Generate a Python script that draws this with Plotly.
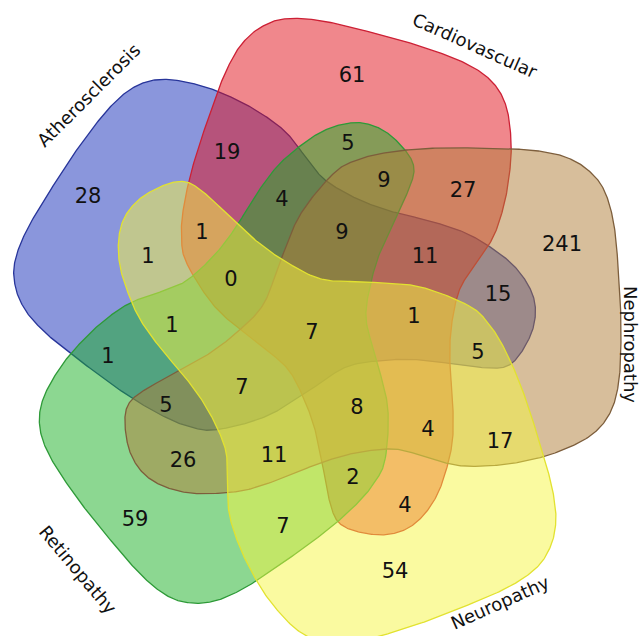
import numpy as np
import plotly.graph_objects as go

# ---------------- data ----------------
SET_NAMES = ["Atherosclerosis", "Cardiovascular", "Nephropathy", "Neuropathy", "Retinopathy"]
SET_CODES = ["A", "C", "N", "U", "R"]

# membership of each Venn region (codes of the sets it belongs to)
REGION_SETS = [
    "A", "C", "N", "U", "R",
    "AC", "CN", "NU", "UR", "AR",
    "CR", "AN", "CU", "NR", "AU",
    "CNR", "ACR", "ACN", "ANU", "CNU",
    "CUR", "NUR", "ANR", "AUR", "ACU",
    "ACNR", "ACNU", "CNUR", "ANUR", "ACUR",
    "ACNUR",
]
REGION_COUNTS = [
    28, 61, 241, 54, 59,
    19, 27, 17, 7, 1,
    5, 15, 4, 26, 1,
    9, 4, 11, 5, 4,
    2, 11, 5, 1, 1,
    9, 1, 8, 7, 0,
    7,
]

# ---------------- layout (geometry, not data) ----------------
CANVAS_W, CANVAS_H = 641, 636
CENTER = (320.0, 320.0)

# one petal outline (drawn in the Nephropathy orientation); others are rotations
TEMPLATE_X = [333, 357, 390, 440, 513, 545, 568, 588, 604, 614, 619, 621, 619, 610, 590,
              555, 520, 487, 455, 420, 393, 355, 320, 283, 250, 223, 190, 163, 143, 130,
              125, 128, 143, 175, 207, 235, 263, 280, 300]
TEMPLATE_Y = [174, 160, 152, 148, 149, 152, 158, 170, 190, 225, 280, 330, 380, 413, 436,
              453, 462, 466, 465, 455, 449, 453, 463, 478, 489, 493, 493, 486, 473, 452,
              425, 405, 391, 373, 355, 334, 305, 262, 215]

# rotation (deg), scale, shift x, shift y for each set
PLACEMENT = {
    "Atherosclerosis": (-144, 0.965, -10, 3),
    "Cardiovascular": (-72, 0.97, -2, 0),
    "Nephropathy": (0, 1.0, 0, 0),
    "Neuropathy": (72, 1.0, 5, 18),
    "Retinopathy": (144, 0.947, -6, 19),
}

FILL = {
    "Atherosclerosis": "rgba(21,45,185,0.5)",
    "Cardiovascular": "rgba(225,15,25,0.5)",
    "Nephropathy": "rgba(175,125,55,0.5)",
    "Neuropathy": "rgba(245,245,65,0.5)",
    "Retinopathy": "rgba(25,175,35,0.5)",
}
EDGE = {
    "Atherosclerosis": "#28359a",
    "Cardiovascular": "#cc2035",
    "Nephropathy": "#7d5e3c",
    "Neuropathy": "#e2e230",
    "Retinopathy": "#2e9a38",
}
DRAW_ORDER = ["Atherosclerosis", "Cardiovascular", "Retinopathy", "Nephropathy", "Neuropathy"]

REGION_LABEL_X = [88, 352, 562, 395, 135,
                  227, 463, 500, 283, 108,
                  348, 498, 405, 183, 148,
                  384, 282, 425, 478, 428,
                  353, 274, 166, 172, 202,
                  342, 414, 357, 242, 231,
                  312]
REGION_LABEL_Y = [198, 77, 246, 573, 521,
                  154, 192, 443, 528, 358,
                  145, 296, 507, 462, 258,
                  182, 201, 258, 354, 431,
                  479, 457, 407, 327, 234,
                  234, 318, 409, 389, 281,
                  334]

SET_LABEL_X = [88, 475, 631, 500, 78]
SET_LABEL_Y = [95, 45, 344, 602, 569]
SET_LABEL_ANGLE = [-45, 24, 90, -24, 50]

NUM_FONT = "DejaVu Sans, Liberation Sans, Arial, sans-serif"
LBL_FONT = "DejaVu Sans, Liberation Sans, Arial, sans-serif"


def closed_spline(px, py, n=24):
    p = np.column_stack([px, py]).astype(float)
    m = len(p)
    out = []
    for i in range(m):
        p0, p1, p2, p3 = p[(i - 1) % m], p[i], p[(i + 1) % m], p[(i + 2) % m]
        t = np.linspace(0, 1, n, endpoint=False)[:, None]
        t2, t3 = t * t, t * t * t
        seg = 0.5 * ((2 * p1) + (-p0 + p2) * t + (2 * p0 - 5 * p1 + 4 * p2 - p3) * t2
                     + (-p0 + 3 * p1 - 3 * p2 + p3) * t3)
        out.append(seg)
    out = np.vstack(out)
    out = np.vstack([out, out[:1]])
    return out[:, 0], out[:, 1]


def place(name):
    ang, sc, dx, dy = PLACEMENT[name]
    bx, by = closed_spline(TEMPLATE_X, TEMPLATE_Y)
    a = np.deg2rad(ang)
    cx, cy = CENTER
    ux, uy = bx - cx, by - cy
    rx = np.cos(a) * ux - np.sin(a) * uy
    ry = np.sin(a) * ux + np.cos(a) * uy
    return cx + sc * rx + dx, cy + sc * ry + dy


fig = go.Figure()
for name in DRAW_ORDER:
    xs, ys = place(name)
    fig.add_trace(go.Scatter(
        x=xs, y=ys, mode="lines", fill="toself",
        fillcolor=FILL[name], line=dict(color=EDGE[name], width=1.3),
        name=name, hoverinfo="skip", showlegend=False,
    ))

fig.add_trace(go.Scatter(
    x=REGION_LABEL_X, y=REGION_LABEL_Y, mode="text",
    text=[str(v) for v in REGION_COUNTS],
    customdata=REGION_SETS,
    textposition="middle center",
    textfont=dict(family=NUM_FONT, size=21, color="#111111"),
    hovertemplate="%{customdata}: %{text}<extra></extra>",
    showlegend=False,
))

for name, x, y, ang in zip(SET_NAMES, SET_LABEL_X, SET_LABEL_Y, SET_LABEL_ANGLE):
    fig.add_annotation(x=x, y=y, text=name, showarrow=False, textangle=ang,
                       font=dict(family=LBL_FONT, size=18, color="#111111"),
                       xanchor="center", yanchor="middle")

fig.update_layout(
    width=CANVAS_W, height=CANVAS_H,
    margin=dict(l=0, r=0, t=0, b=0),
    paper_bgcolor="white", plot_bgcolor="white",
    xaxis=dict(range=[0, CANVAS_W], visible=False, fixedrange=True),
    yaxis=dict(range=[CANVAS_H, 0], visible=False, fixedrange=True),
)

fig.write_html("out.html",
               config={"displayModeBar": False},
               post_script="document.body.style.margin='0px';document.body.style.overflow='hidden';")
